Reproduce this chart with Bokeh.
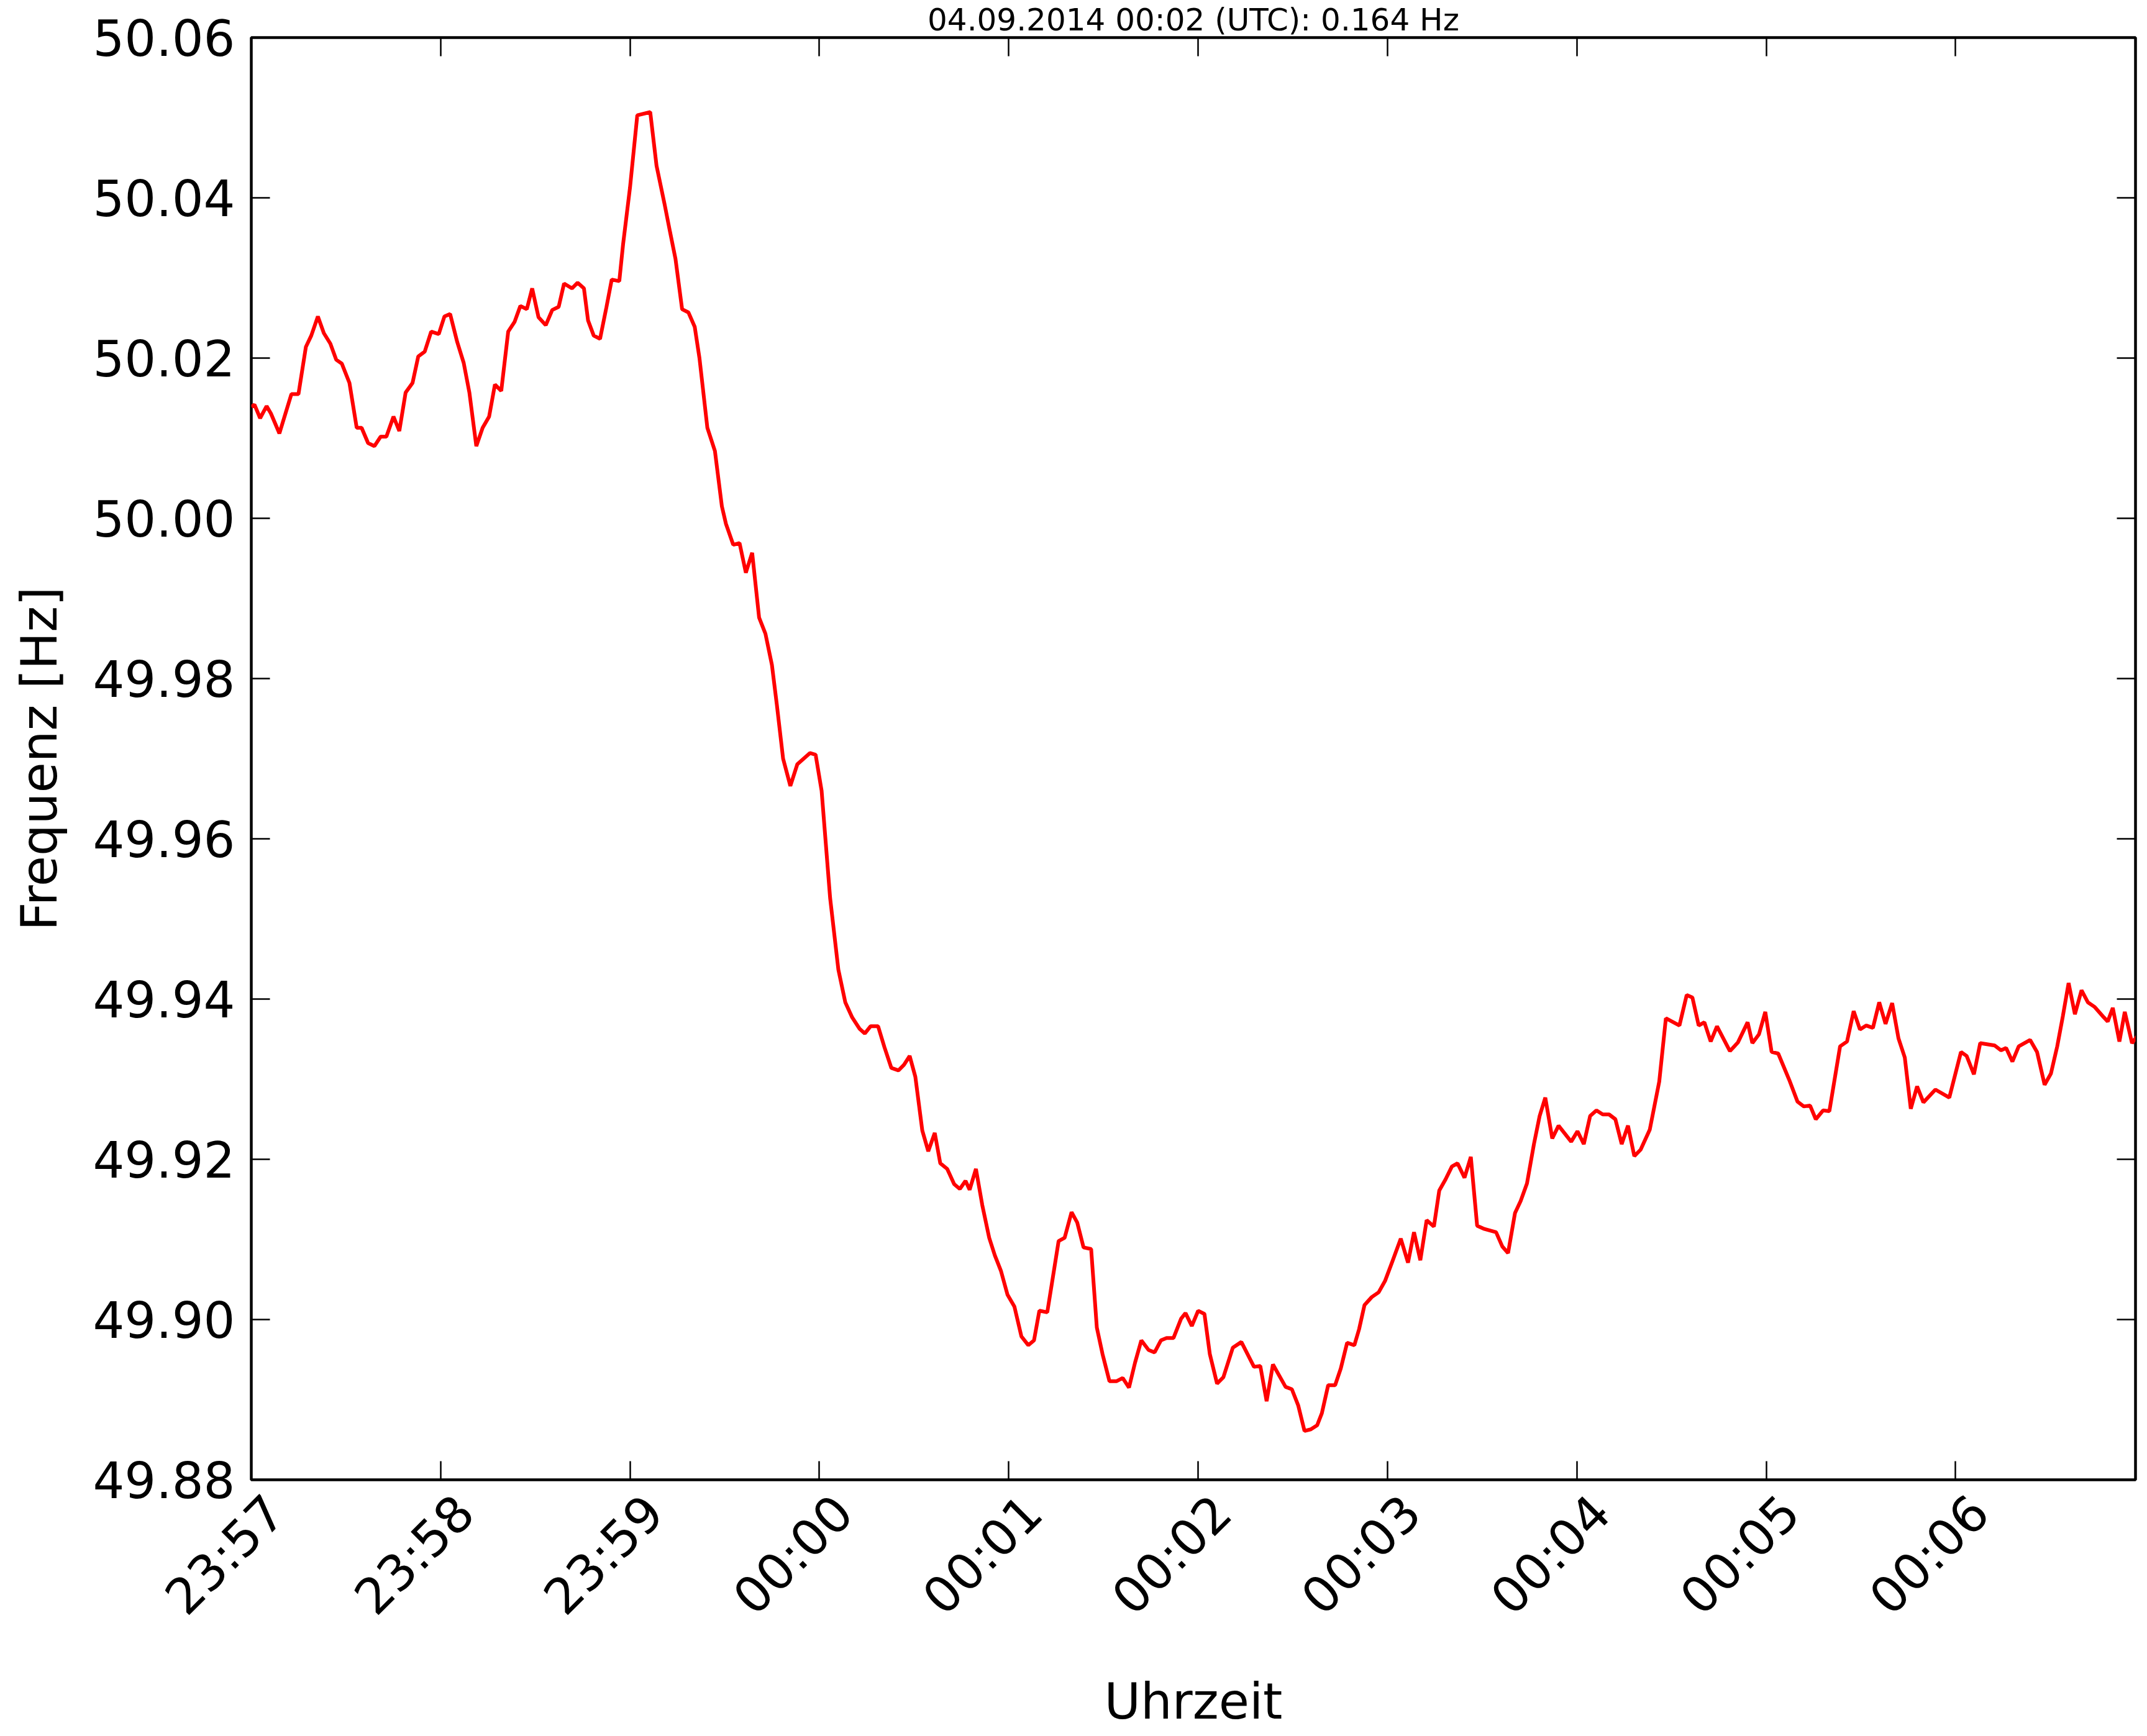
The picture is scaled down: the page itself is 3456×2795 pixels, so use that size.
import math
import pandas as pd
from bokeh.plotting import figure
from bokeh.models import (DatetimeAxis, LinearAxis, FixedTicker, DatetimeTickFormatter,
                          PrintfTickFormatter, Range1d)
from bokeh.embed import file_html
from bokeh.resources import INLINE

# ---- data (seconds after 23:57:00, grid frequency in Hz) ----
seconds = [
    0, 1, 2.8, 4.85, 6.2, 8.9, 12.7, 14.95, 17.3, 19.0, 21.1, 23.0, 25.05, 26.9, 28.7,
    31.1, 33.4, 34.95, 37.0, 39.0, 41.0, 42.8, 45.05, 46.9, 48.9, 51.1, 52.9, 54.95,
    57.0, 59.4, 61.2, 63.0, 65.25, 67.3, 69.1, 71.3, 73.3, 75.35, 77.2, 79.2, 81.4,
    83.4, 85.25, 87.3, 89.0, 91.0, 93.3, 95.35, 97.4, 99.1, 101.6, 103.4, 105.4, 106.7,
    108.5, 110.5, 112.5, 114.2, 116.6, 117.8, 120.0, 122.3, 126.4, 128.4, 130.9, 132.7,
    134.4, 136.5, 138.5, 140.5, 142.0, 144.5, 146.9, 149.1,
    150.4, 152.7, 154.7, 156.7, 158.7, 160.9, 162.9, 164.96, 166.5, 168.5, 170.8, 173.0,
    177.0, 178.8, 180.7, 183.4, 186.0, 188.2, 190.4, 192.7, 194.4, 196.2, 198.6, 200.6,
    202.8, 205.05, 206.8, 208.6, 210.4, 212.6, 214.5, 216.55, 218.3, 220.5, 222.7, 224.5,
    226.3, 227.6, 229.6, 231.6, 233.8, 235.6, 237.5, 239.6, 241.8, 244.0, 246.2, 248.0,
    249.7, 252.2, 253.7, 255.8, 257.7, 259.9, 261.7, 263.7, 266.1, 267.9, 269.7, 271.9,
    274.1, 276.1, 278.1, 280.0, 282.0, 284.3, 286.2, 288.2, 290.0, 292.2,
    294.6, 296.0, 298.0, 300.0, 302.0, 303.7, 306.0, 308.0, 311.0, 313.7, 317.7, 319.7,
    321.7, 323.7, 327.7, 329.7, 331.7, 333.7, 335.7, 337.7, 339.2, 341.2, 343.4, 345.2,
    347.2, 349.5, 351.0, 352.7, 355.0, 357.2, 359.2, 361.4, 364.2, 366.5, 368.4, 370.4,
    372.4, 374.7, 376.4, 378.4, 380.4, 382.2, 384.4, 386.4, 388.4, 390.7, 394.4, 396.4,
    398.2, 400.4, 402.2, 404.2, 406.4, 408.2, 410.0, 412.2, 414.2, 418.2, 420.2, 422.2,
    424.2, 426.2, 428.2, 430.2, 432.2, 434.2, 436.2, 438.2, 440.2,
    443.1, 446.1, 448.2, 452.5, 454.8, 456.6, 458.6, 460.4, 462.4, 464.4, 468.5, 471.05,
    474.1, 475.6, 477.7, 479.7, 481.7, 483.8, 487.3, 489.9, 491.9, 493.9, 495.7, 498.0,
    500.0, 503.4, 505.6, 507.7, 509.7, 511.7, 513.8, 515.8, 517.8, 519.9, 521.9, 523.9,
    525.8, 527.8, 529.8, 533.6, 538.0, 541.7, 543.5, 545.8, 547.8, 552.4, 554.4, 556.0,
    558.0, 560.0, 563.6, 565.8, 568.2, 570.2, 572.2, 574.0, 575.8, 577.8, 579.9, 581.9,
    584.1, 587.0, 588.2, 589.8, 591.9, 593.6, 595.9, 598.0,
]
freq = [
    50.0139, 50.0142, 50.0125, 50.0140, 50.0131, 50.0106, 50.0155, 50.0155, 50.0214,
    50.0228, 50.0252, 50.0231, 50.0218, 50.0198, 50.0193, 50.0169, 50.0113, 50.0113,
    50.0094, 50.0090, 50.0102, 50.0102, 50.0127, 50.0109, 50.0157, 50.0169, 50.0202,
    50.0208, 50.0233, 50.0230, 50.0252, 50.0255, 50.0220, 50.0194, 50.0157, 50.0090,
    50.0113, 50.0127, 50.0167, 50.0159, 50.0233, 50.0245, 50.0265, 50.0261, 50.0287,
    50.0251, 50.0241, 50.0260, 50.0264, 50.0293, 50.0287, 50.0294, 50.0287, 50.0247,
    50.0228, 50.0224, 50.0263, 50.0298, 50.0296, 50.0342, 50.0413, 50.0503, 50.0507,
    50.0440, 50.0393, 50.0357, 50.0324, 50.0261, 50.0257, 50.0239, 50.0200, 50.0113,
    50.0084, 50.0015,
    49.9993, 49.9967, 49.9969, 49.9932, 49.9957, 49.9876, 49.9856, 49.9817, 49.9768,
    49.9700, 49.9666, 49.9693, 49.9707, 49.9705, 49.9660, 49.9526, 49.9437, 49.9396,
    49.9377, 49.9363, 49.9357, 49.9366, 49.9366, 49.9340, 49.9314, 49.9311, 49.9318,
    49.9329, 49.9303, 49.9236, 49.9210, 49.9233, 49.9195, 49.9188, 49.9169, 49.9163,
    49.9173, 49.9162, 49.9188, 49.9143, 49.9102, 49.9080, 49.9061, 49.9031, 49.9016,
    49.8979, 49.8968, 49.8974, 49.9011, 49.9009, 49.9046, 49.9098, 49.9102, 49.9134,
    49.9121, 49.9090, 49.9088, 49.8990, 49.8957, 49.8923, 49.8923, 49.8927, 49.8915,
    49.8946, 49.8974, 49.8962, 49.8959, 49.8974, 49.8977, 49.8977,
    49.9001, 49.9008, 49.8992, 49.9011, 49.9007, 49.8957, 49.8920, 49.8928, 49.8965,
    49.8972, 49.8941, 49.8942, 49.8898, 49.8944, 49.8916, 49.8913, 49.8893, 49.8861,
    49.8863, 49.8868, 49.8883, 49.8918, 49.8918, 49.8939, 49.8971, 49.8968, 49.8988,
    49.9018, 49.9028, 49.9034, 49.9048, 49.9071, 49.9101, 49.9071, 49.9109, 49.9074,
    49.9124, 49.9116, 49.9161, 49.9175, 49.9191, 49.9195, 49.9177, 49.9203, 49.9117,
    49.9113, 49.9109, 49.9091, 49.9083, 49.9133, 49.9148, 49.9170, 49.9219, 49.9254,
    49.9277, 49.9226, 49.9242, 49.9222, 49.9235, 49.9219, 49.9254, 49.9261, 49.9256,
    49.9256, 49.9250, 49.9219, 49.9242, 49.9204, 49.9212,
    49.9237, 49.9297, 49.9376, 49.9367, 49.9405, 49.9402, 49.9367, 49.9371, 49.9347,
    49.9366, 49.9335, 49.9346, 49.9371, 49.9345, 49.9356, 49.9384, 49.9334, 49.9332,
    49.9299, 49.9272, 49.9266, 49.9267, 49.9250, 49.9261, 49.9260, 49.9341, 49.9347,
    49.9385, 49.9362, 49.9367, 49.9364, 49.9396, 49.9369, 49.9395, 49.9351, 49.9327,
    49.9263, 49.9291, 49.9271, 49.9287, 49.9277, 49.9334, 49.9329, 49.9306, 49.9345,
    49.9342, 49.9336, 49.9339, 49.9322, 49.9341, 49.9349, 49.9334, 49.9293, 49.9307,
    49.9341, 49.9379, 49.9420, 49.9381, 49.9411, 49.9396, 49.9390, 49.9377, 49.9372,
    49.9389, 49.9347, 49.9384, 49.9345, 49.9356,
]

start_time = "2014-09-03 23:57:00"
window_seconds = 597
tick_minutes = [0, 1, 2, 3, 4, 5, 6, 7, 8, 9]
x_tick_labels = ["23:57", "23:58", "23:59", "00:00", "00:01",
                 "00:02", "00:03", "00:04", "00:05", "00:06"]
y_ticks = [49.88, 49.90, 49.92, 49.94, 49.96, 49.98, 50.00, 50.02, 50.04, 50.06]
y_min, y_max = 49.88, 50.06
title_text = "04.09.2014 00:02 (UTC): 0.164 Hz"
x_label = "Uhrzeit"
y_label = "Frequenz [Hz]"

# ---- build ----
start = pd.Timestamp(start_time)
times = start + pd.to_timedelta(seconds, unit="s")
start_ms = start.value / 1e6
end_ms = start_ms + window_seconds * 1000.0
x_ticks_ms = [start_ms + m * 60000.0 for m in tick_minutes]

FONT = "DejaVu Sans"
FRAME_W, FRAME_H = 3033, 2322

p = figure(frame_width=FRAME_W, frame_height=FRAME_H, x_axis_type="datetime",
           x_range=Range1d(start_ms, end_ms), y_range=Range1d(y_min, y_max),
           output_backend="svg", toolbar_location=None,
           min_border_left=404, min_border_top=60, min_border_right=3,
           min_border_bottom=330, background_fill_color="white",
           border_fill_color="white")

xa = p.xaxis[0]
ya = p.yaxis[0]

p.line(times, freq, line_color="#ff0000", line_width=6)

p.xgrid.visible = False
p.ygrid.visible = False
p.outline_line_color = "black"
p.outline_line_width = 4.5
p.outline_line_alpha = 1.0

p.title.text = title_text
p.title.align = "center"
p.title.text_font = FONT
p.title.text_font_size = "50px"
p.title.text_font_style = "normal"
p.title.text_color = "black"
p.title.standoff = 0

fmt = DatetimeTickFormatter(seconds="%H:%M", minsec="%H:%M", minutes="%H:%M",
                            hourmin="%H:%M", hours="%H:%M", days="%H:%M")
xt = FixedTicker(ticks=x_ticks_ms)
yt = FixedTicker(ticks=y_ticks)

top = DatetimeAxis(ticker=xt, formatter=fmt)
right = LinearAxis(ticker=yt)
p.add_layout(top, "above")
p.add_layout(right, "right")

xa.ticker = xt
xa.formatter = fmt
ya.ticker = yt
ya.formatter = PrintfTickFormatter(format="%.2f")

for ax in [xa, ya, top, right]:
    ax.major_tick_in = 30
    ax.major_tick_out = 0
    ax.minor_tick_in = 0
    ax.minor_tick_out = 0
    ax.major_tick_line_color = "black"
    ax.major_tick_line_width = 2.5
    ax.axis_line_color = None
    ax.major_label_text_font = FONT
    ax.major_label_text_font_size = "80px"
    ax.major_label_text_color = "black"
    ax.axis_label_text_font = FONT
    ax.axis_label_text_font_size = "80px"
    ax.axis_label_text_font_style = "normal"
    ax.axis_label_text_color = "black"

# mirrored tick marks only (labels not drawn) on top and right
for ax in [top, right]:
    ax.major_label_text_font_size = "1px"
    ax.major_label_text_color = None
    ax.major_label_standoff = 0

# bottom tick labels, rotated 45 degrees; a leading line break moves each
# label off the tick so that it sits centred under it (as in the original)
xa.major_label_orientation = math.pi / 4
xa.major_label_overrides = {tx: "\n" + lab for tx, lab in zip(x_ticks_ms, x_tick_labels)}
xa.major_label_standoff = 0
xa.axis_label = x_label
xa.axis_label_standoff = 0

ya.major_label_standoff = 26
ya.axis_label = y_label
ya.axis_label_standoff = 36

open("out.html", "w").write(file_html(p, INLINE))
